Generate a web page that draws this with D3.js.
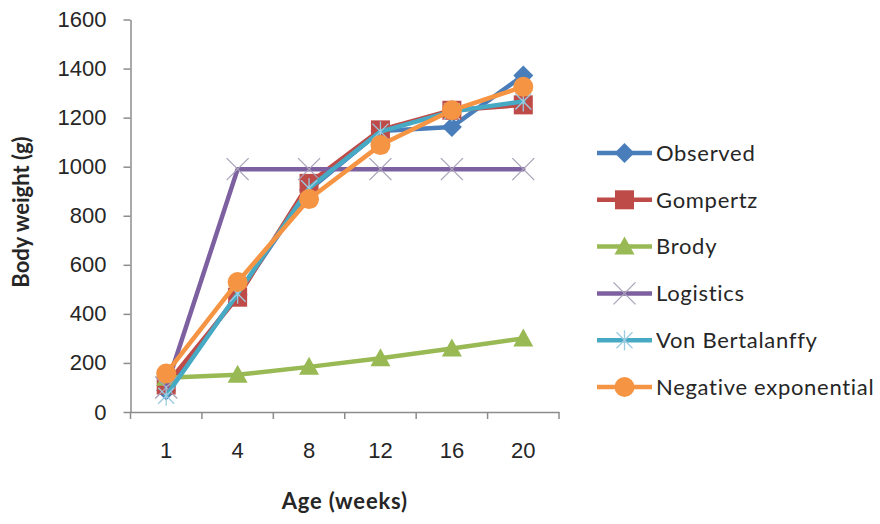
<!DOCTYPE html>
<head>
<meta charset="utf-8">
<title>Body weight growth models</title>
<script type="text/javascript" src="https://d3js.org/d3.v7.min.js"></script>
<style>
  body { margin: 0; background: #fff; }
  svg { font-family: Lato, "Open Sans", sans-serif; }
</style>
</head>

<body>
<div id="container"></div>
<script>

// data
const ages = ["1", "4", "8", "12", "16", "20"]
const observed      = [88, 478, 905, 1145, 1162, 1372]
const gompertz      = [110, 468, 932, 1150, 1230, 1252]
const brody         = [140, 152, 184, 219, 259, 300]
const logistics     = [100, 990, 990, 990, 990, 990]
const vonBertalanffy = [66, 482, 912, 1143, 1225, 1266]
const negExponential = [157, 530, 868, 1088, 1230, 1326]
const yTicks = [0, 200, 400, 600, 800, 1000, 1200, 1400, 1600]

const series = [
  {name: "Observed", values: observed, color: "#4a7ebb", marker: "diamond"},
  {name: "Gompertz", values: gompertz, color: "#be4b48", marker: "square"},
  {name: "Brody", values: brody, color: "#98b954", marker: "triangle"},
  {name: "Logistics", values: logistics, color: "#7d60a0", marker: "x"},
  {name: "Von Bertalanffy", values: vonBertalanffy, color: "#46aac5", marker: "star"},
  {name: "Negative exponential", values: negExponential, color: "#f59443", marker: "circle"}
]

function chart() {
  const width = 880, height = 524
  const margin = {top: 19.5, right: 321, bottom: 112, left: 130.5}
  const fs = 22

  const svg = d3.select("div#container").append("svg")
      .attr("width", width).attr("height", height)

  const xScale = d3.scaleBand().domain(ages)
      .range([margin.left, width - margin.right])
  const yScale = d3.scaleLinear().domain([0, 1600])
      .range([height - margin.bottom, margin.top])

  const axisColor = "#8c8c8c"

  // y axis
  svg.append("g")
      .attr("transform", `translate(${margin.left},0)`)
      .call(d3.axisLeft(yScale).tickValues(yTicks).tickFormat(d3.format("d"))
          .tickSize(7).tickPadding(17).tickSizeOuter(0))
      .call(g => g.select(".domain").attr("stroke", axisColor).attr("stroke-width", 1.5))
      .call(g => g.selectAll(".tick line").attr("stroke", axisColor).attr("stroke-width", 1.5))
      .call(g => g.selectAll(".tick text").attr("font-size", fs).attr("fill", "#262626"))

  // x axis: labels at band centres, tick marks at band edges
  const y0 = yScale(0)
  svg.append("g")
      .attr("transform", `translate(0,${y0})`)
      .call(d3.axisBottom(xScale).tickSize(0).tickPadding(30))
      .call(g => g.select(".domain").attr("stroke", axisColor).attr("stroke-width", 1.5))
      .call(g => g.selectAll(".tick text").attr("font-size", fs).attr("fill", "#262626"))
  const edges = ages.map(a => xScale(a)).concat([xScale(ages[ages.length - 1]) + xScale.bandwidth()])
  svg.append("g").selectAll("line").data(edges).join("line")
      .attr("x1", d => d).attr("x2", d => d)
      .attr("y1", y0).attr("y2", y0 + 7)
      .attr("stroke", axisColor).attr("stroke-width", 1.5)

  // axis titles
  svg.append("text")
      .attr("x", (margin.left + width - margin.right) / 2)
      .attr("y", 509)
      .attr("text-anchor", "middle").attr("font-weight", "bold").attr("font-size", fs)
      .attr("letter-spacing", 0.8).attr("fill", "#262626")
      .text("Age (weeks)")
  svg.append("text")
      .attr("transform", `translate(29,212) rotate(-90)`)
      .attr("text-anchor", "middle").attr("font-weight", "bold").attr("font-size", fs)
      .attr("fill", "#262626")
      .text("Body weight (g)")

  const cx = a => xScale(a) + xScale.bandwidth() / 2
  const line = d3.line()
      .x((d, i) => cx(ages[i]))
      .y(d => yScale(d))

  function drawMarker(g, type, color) {
    if (type === "diamond") {
      g.append("path").attr("d", "M0,-10L10,0L0,10L-10,0Z").attr("fill", color)
    } else if (type === "square") {
      g.append("rect").attr("x", -9.5).attr("y", -9.5).attr("width", 19).attr("height", 19)
        .attr("fill", color)
    } else if (type === "triangle") {
      g.append("path").attr("d", "M0,-10L10,8L-10,8Z").attr("fill", color)
    } else if (type === "circle") {
      g.append("circle").attr("r", 10).attr("fill", color)
    } else if (type === "x") {
      g.append("path").attr("d", "M-11,-11L11,11M-11,11L11,-11")
        .attr("stroke", "#a9a2b8").attr("stroke-width", 1.3).attr("fill", "none")
    } else if (type === "star") {
      g.append("path").attr("d", "M-8,-8L8,8M-8,8L8,-8M0,-10L0,10")
        .attr("stroke", "#9ccbe0").attr("stroke-width", 1.3).attr("fill", "none")
    }
  }

  const plot = svg.append("g")
  series.forEach(s => {
    const g = plot.append("g")
    g.append("path")
        .attr("d", line(s.values))
        .attr("fill", "none").attr("stroke", s.color)
        .attr("stroke-width", 4.5).attr("stroke-linejoin", "round").attr("stroke-linecap", "round")
    s.values.forEach((v, i) => {
      const m = g.append("g").attr("transform", `translate(${cx(ages[i])},${yScale(v)})`)
      drawMarker(m, s.marker, s.color)
    })
  })

  // legend
  const legend = svg.append("g").attr("transform", "translate(597,153)")
  series.forEach((s, i) => {
    const row = legend.append("g").attr("transform", `translate(0,${i * 46.8})`)
    row.append("line").attr("x1", 0).attr("x2", 55)
        .attr("stroke", s.color).attr("stroke-width", 4.5)
    const m = row.append("g").attr("transform", "translate(27.5,0)")
    drawMarker(m, s.marker, s.color)
    row.append("text").attr("x", 59).attr("y", 0).attr("dy", "0.35em")
        .attr("font-size", fs).attr("letter-spacing", 0.7).attr("fill", "#262626")
        .text(s.name)
  })

  return svg.node()
}

chart()

</script>
</body>
